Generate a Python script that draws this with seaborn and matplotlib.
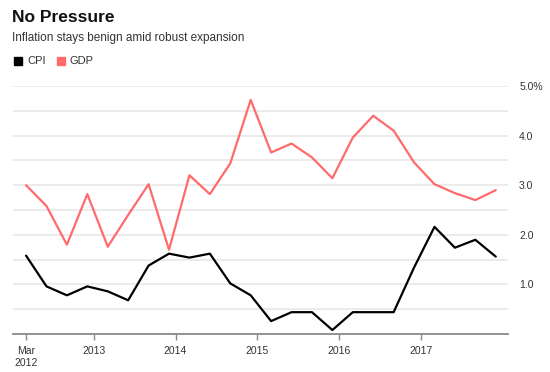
import numpy as np
import pandas as pd
import matplotlib
matplotlib.use("Agg")
import matplotlib.pyplot as plt
import seaborn as sns

# Quarterly values, Q1 2012 .. Q4 2017 (percent)
quarters = [f"{y}Q{q}" for y in range(2012, 2018) for q in range(1, 5)]
cpi = [1.58, 0.96, 0.78, 0.96, 0.86, 0.68, 1.38, 1.62, 1.54, 1.62, 1.02, 0.78,
       0.26, 0.44, 0.44, 0.08, 0.44, 0.44, 0.44, 1.34, 2.16, 1.74, 1.90, 1.56]
gdp = [3.00, 2.58, 1.80, 2.82, 1.76, 2.40, 3.02, 1.70, 3.20, 2.82, 3.44, 4.72,
       3.66, 3.84, 3.56, 3.14, 3.96, 4.40, 4.10, 3.46, 3.02, 2.84, 2.70, 2.90]
x_ticks = [2012.17, 2013, 2014, 2015, 2016, 2017]
x_labels = ["Mar\n2012", "2013", "2014", "2015", "2016", "2017"]
y_ticks = [1, 2, 3, 4, 5]
y_labels = ["1.0", "2.0", "3.0", "4.0", "5.0%"]

# quarter -> decimal year (first point sits at March 2012)
t = [2012.17 + 0.25 * i for i in range(len(quarters))]
df = pd.DataFrame({"t": t * 2, "value": cpi + gdp,
                   "series": ["CPI"] * len(cpi) + ["GDP"] * len(gdp)})

sns.set_style("white")
plt.rcParams["font.family"] = ["Liberation Sans", "DejaVu Sans"]

colors = {"CPI": "#000000", "GDP": "#ff6b6b"}
fig = plt.figure(figsize=(5.5, 3.72), dpi=100)
ax = fig.add_axes([13 / 550, 38 / 372, 495 / 550, 248 / 372])

sns.lineplot(data=df, x="t", y="value", hue="series", palette=colors,
             linewidth=1.6, legend=False, ax=ax)

ax.set_xlim(2012.01, 2018.07)
ax.set_ylim(0, 5.0)
ax.set_xlabel("")
ax.set_ylabel("")

ax.yaxis.tick_right()
ax.set_yticks(y_ticks)
ax.set_yticklabels(y_labels)
ax.set_yticks([0.5, 1.5, 2.5, 3.5, 4.5], minor=True)
ax.tick_params(axis="y", which="both", length=0, pad=8, labelsize=7.5,
               labelcolor="#333333")
ax.grid(axis="y", which="both", color="#e6e6e6", linewidth=1.1)
ax.set_axisbelow(True)

ax.set_xticks(x_ticks)
ax.set_xticklabels(x_labels)
ax.tick_params(axis="x", bottom=True, length=4, width=1, color="#888888",
               pad=5, labelsize=7.5, labelcolor="#333333")

for s in ["top", "left", "right"]:
    ax.spines[s].set_visible(False)
ax.spines["bottom"].set_color("#888888")
ax.spines["bottom"].set_linewidth(1.3)

fig.text(12 / 550, 1 - 17 / 372, "No Pressure", fontsize=12.5,
         fontweight="bold", va="center", color="#111111")
fig.text(12 / 550, 1 - 38 / 372, "Inflation stays benign amid robust expansion",
         fontsize=8.5, va="center", color="#333333")

# legend swatches
for x0, name in [(14, "CPI"), (57, "GDP")]:
    fig.patches.append(plt.Rectangle((x0 / 550, 1 - 65 / 372), 8 / 550, 8 / 372,
                                     transform=fig.transFigure,
                                     color=colors[name]))
    fig.text((x0 + 13) / 550, 1 - 61 / 372, name, fontsize=8, va="center",
             color="#333333")

fig.savefig("out.png", dpi=100)
